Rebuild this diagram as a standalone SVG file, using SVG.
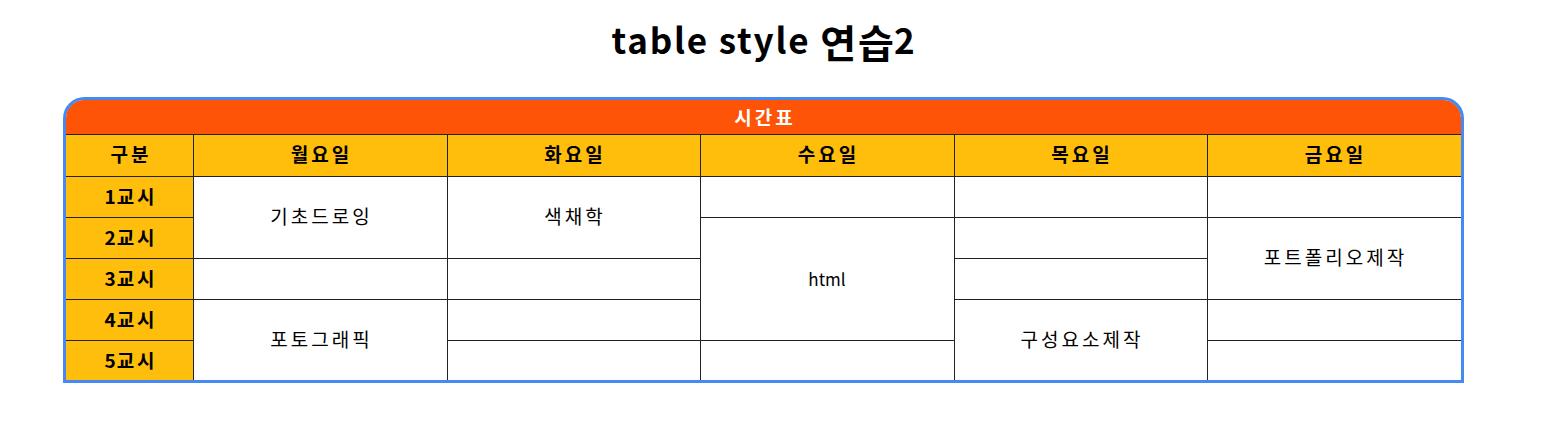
<svg xmlns="http://www.w3.org/2000/svg" width="1542" height="436" viewBox="0 0 1542 436">
<style>
.t{font-family:"Noto Sans CJK KR","Noto Sans",sans-serif;font-size:19px;letter-spacing:3px;text-anchor:middle;fill:#000}
.b{font-weight:bold}
.d{letter-spacing:1px}
.ln{stroke:#222;stroke-width:1;fill:none}
</style>
<rect width="1542" height="436" fill="#fff"/>
<text x="763" y="54" class="t b" style="font-size:35px;letter-spacing:1.8px">table style <tspan dy="4" style="font-size:39px;letter-spacing:2px">연</tspan><tspan style="font-size:39px;letter-spacing:0">습</tspan><tspan dy="-4" style="letter-spacing:0">2</tspan></text>
<g id="table">
<path d="M66 134 V118 A18 18 0 0 1 84 100 H1443 A18 18 0 0 1 1461 118 V134 Z" fill="#fe5407"/>
<rect x="66" y="134" width="1395" height="42" fill="#ffbe0b"/>
<rect x="66" y="176" width="127" height="204" fill="#ffbe0b"/>
<rect x="193" y="176" width="1268" height="204" fill="#fff"/>
</g>
<g id="connectors">
<path class="ln" d="M66 134.5H1461M66 176.5H1461M66 217.5H193M700 217.5H1461M66 258.5H700M954 258.5H1207M66 299.5H700M954 299.5H1461M66 340.5H193M447 340.5H954M1207 340.5H1461"/>
<path class="ln" d="M193.5 134V380M447.5 134V380M700.5 134V380M954.5 134V380M1207.5 134V380"/>
</g>
<path d="M64.5 380 V118.5 A20 20 0 0 1 84.5 98.5 H1442.5 A20 20 0 0 1 1462.5 118.5 V381.5 H64.5 Z" fill="none" stroke="#4689f2" stroke-width="3"/>
<g id="caption"><text x="765" y="124.5" class="t b" style="fill:#fff">시간표</text></g>
<g id="header">
<text x="131" y="161.5" class="t b">구분</text>
<text x="321.5" y="161.5" class="t b">월요일</text>
<text x="575" y="161.5" class="t b">화요일</text>
<text x="828.5" y="161.5" class="t b">수요일</text>
<text x="1082" y="161.5" class="t b">목요일</text>
<text x="1335.5" y="161.5" class="t b">금요일</text>
</g>
<g id="rows">
<text x="131" y="204" class="t b"><tspan class="d">1</tspan>교시</text>
<text x="131" y="245" class="t b"><tspan class="d">2</tspan>교시</text>
<text x="131" y="286" class="t b"><tspan class="d">3</tspan>교시</text>
<text x="131" y="327" class="t b"><tspan class="d">4</tspan>교시</text>
<text x="131" y="368" class="t b"><tspan class="d">5</tspan>교시</text>
</g>
<g id="cells">
<text x="321.5" y="224" class="t">기초드로잉</text>
<text x="575" y="224" class="t">색채학</text>
<text x="827" y="286" class="t" style="font-size:17px;letter-spacing:0">html</text>
<text x="1335.5" y="265" class="t">포트폴리오제작</text>
<text x="321.5" y="346.5" class="t">포토그래픽</text>
<text x="1082" y="346.5" class="t">구성요소제작</text>
</g>
</svg>
